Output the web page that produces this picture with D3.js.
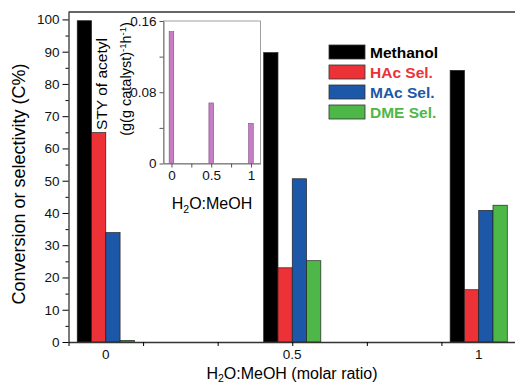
<!DOCTYPE html>
<html>
<head>
<meta charset="utf-8">
<script src="https://cdn.jsdelivr.net/npm/d3@7"></script>
<style>
  body { margin: 0; background: #fff; }
  svg { font-family: "Liberation Sans", Arial, sans-serif; }
</style>
</head>
<body>
<div id="container"></div>
<script>
// data
var ratios = [0, 0.5, 1],
    ratioLabels = ["0", "0.5", "1"];
var seriesNames = ["Methanol", "HAc Sel.", "MAc Sel.", "DME Sel."];
var methanol = [99.6, 89.7, 84.2],
    hacSel = [64.9, 23.0, 16.2],
    macSel = [33.9, 50.6, 40.8],
    dmeSel = [0.5, 25.2, 42.4];
var seriesColors = ["#000000", "#ec3237", "#1d57a8", "#4db848"];
// inset: STY of acetyl
var styValues = [0.148, 0.068, 0.045];

(function(){
    var width = 515, height = 386;
    var svg = d3.select("#container").append("svg")
        .attr("width", width).attr("height", height);

    var series = [methanol, hacSel, macSel, dmeSel];

    //main axes
    var x = d3.scaleLinear().domain([-0.1, 1.1]).range([68.5, 516]);
    var y = d3.scaleLinear().domain([0, 102.3]).range([342, 12]);
    var bw = 0.0383; // bar width in x units

    var bars = svg.append("g");
    series.forEach(function(vals, s){
        bars.selectAll(".b" + s).data(vals).enter().append("rect")
            .attr("x", function(d, i){ return x(ratios[i] + (s - 2) * bw); })
            .attr("width", x(bw) - x(0))
            .attr("y", function(d){ return y(d); })
            .attr("height", function(d){ return y(0) - y(d); })
            .attr("fill", seriesColors[s])
            .attr("stroke", "#222")
            .attr("stroke-width", 0.7);
    });

    //frame
    svg.append("line").attr("x1", 68.5).attr("x2", 516).attr("y1", 12).attr("y2", 12)
        .attr("stroke", "#333").attr("stroke-width", 1.3);

    var yAxis = svg.append("g").attr("transform", "translate(68.5,0)")
        .call(d3.axisLeft(y).tickValues(d3.range(0, 101, 10)).tickSize(6).tickSizeOuter(0).tickPadding(3));
    svg.append("g").attr("transform", "translate(68.5,0)")
        .call(d3.axisLeft(y).tickValues(d3.range(5, 101, 10)).tickSize(3).tickSizeOuter(0).tickFormat(""))
        .select(".domain").remove();
    yAxis.selectAll("text").style("font-size", "13.5px").attr("fill", "#111");

    svg.append("g").attr("transform", "translate(0,342)")
        .call(d3.axisBottom(x).tickValues([-0.1, 0.1, 0.3, 0.5, 0.7, 0.9, 1.1]).tickSize(4).tickSizeOuter(0).tickFormat(""));
    svg.append("g").attr("transform", "translate(0,342)").selectAll("text")
        .data(ratios).enter().append("text")
        .attr("x", function(d){ return x(d); })
        .attr("y", 17)
        .attr("text-anchor", "middle")
        .style("font-size", "13.5px")
        .attr("fill", "#111")
        .text(function(d, i){ return ratioLabels[i]; });
    svg.selectAll(".domain").attr("stroke", "#333").attr("stroke-width", 1.3);

    //axis titles
    svg.append("text")
        .attr("transform", "translate(25,184) rotate(-90)")
        .attr("text-anchor", "middle")
        .style("font-size", "18px")
        .text("Conversion or selectivity (C%)");
    var xt = svg.append("text")
        .attr("x", 292).attr("y", 379)
        .attr("text-anchor", "middle")
        .style("font-size", "16px");
    xt.append("tspan").text("H");
    xt.append("tspan").attr("dy", 3).style("font-size", "10.5px").text("2");
    xt.append("tspan").attr("dy", -3).text("O:MeOH (molar ratio)");

    //legend
    var legend = svg.append("g").attr("transform", "translate(329,45)");
    seriesNames.forEach(function(name, i){
        legend.append("rect").attr("x", 0).attr("y", i * 20)
            .attr("width", 36).attr("height", 14)
            .attr("fill", seriesColors[i]).attr("stroke", "#333").attr("stroke-width", 0.8);
        legend.append("text").attr("x", 41).attr("y", i * 20 + 13)
            .style("font-size", "15.5px").style("font-weight", "bold")
            .attr("fill", seriesColors[i]).text(name);
    });

    //inset
    var ix = d3.scaleLinear().domain([-0.1, 1.12]).range([163.5, 260.5]);
    var iy = d3.scaleLinear().domain([0, 0.16]).range([163.5, 21]);
    var inset = svg.append("g");
    inset.append("rect").attr("x", 163.5).attr("y", 21)
        .attr("width", 97).attr("height", 142.5)
        .attr("fill", "#fff").attr("stroke", "#888").attr("stroke-width", 0.8);
    inset.selectAll(".sty").data(styValues).enter().append("rect")
        .attr("x", function(d, i){ return ix(ratios[i]) - 2.3; })
        .attr("width", 4.6)
        .attr("y", function(d){ return iy(d); })
        .attr("height", function(d){ return iy(0) - iy(d); })
        .attr("fill", "#c77dc4").attr("stroke", "#7d4f82").attr("stroke-width", 0.6);
    inset.append("g").attr("transform", "translate(163.5,0)")
        .call(d3.axisLeft(iy).tickValues([0, 0.04, 0.08, 0.12, 0.16]).tickSize(4).tickSizeOuter(0)
            .tickFormat(function(d){ return [0, 0.08, 0.16].indexOf(d) >= 0 ? (d === 0 ? "0" : d.toFixed(2)) : ""; }));
    inset.append("g").attr("transform", "translate(0,163.5)")
        .call(d3.axisBottom(ix).tickValues([0, 0.25, 0.5, 0.75, 1]).tickSize(4).tickSizeOuter(0)
            .tickFormat(function(d){ return d === 0.25 || d === 0.75 ? "" : d3.format("")(d); }));
    inset.selectAll("text").style("font-size", "13.5px").attr("fill", "#111");
    inset.selectAll(".domain").attr("stroke", "#777");
    inset.selectAll(".tick line").attr("stroke", "#555");

    inset.append("text")
        .attr("transform", "translate(107,84) rotate(-90)")
        .attr("text-anchor", "middle")
        .style("font-size", "15.5px")
        .text("STY of acetyl");
    var u = inset.append("text")
        .attr("transform", "translate(131,79) rotate(-90)")
        .attr("text-anchor", "middle")
        .style("font-size", "14.5px");
    u.append("tspan").text("(g(g catalyst)");
    u.append("tspan").attr("dy", -5).style("font-size", "9.5px").text("-1");
    u.append("tspan").attr("dy", 5).text("h");
    u.append("tspan").attr("dy", -5).style("font-size", "9.5px").text("-1");
    u.append("tspan").attr("dy", 5).text(")");
    var it = inset.append("text")
        .attr("x", 212).attr("y", 209)
        .attr("text-anchor", "middle")
        .style("font-size", "16px");
    it.append("tspan").text("H");
    it.append("tspan").attr("dy", 4).style("font-size", "10.5px").text("2");
    it.append("tspan").attr("dy", -4).text("O:MeOH");
})();
</script>
</body>
</html>
